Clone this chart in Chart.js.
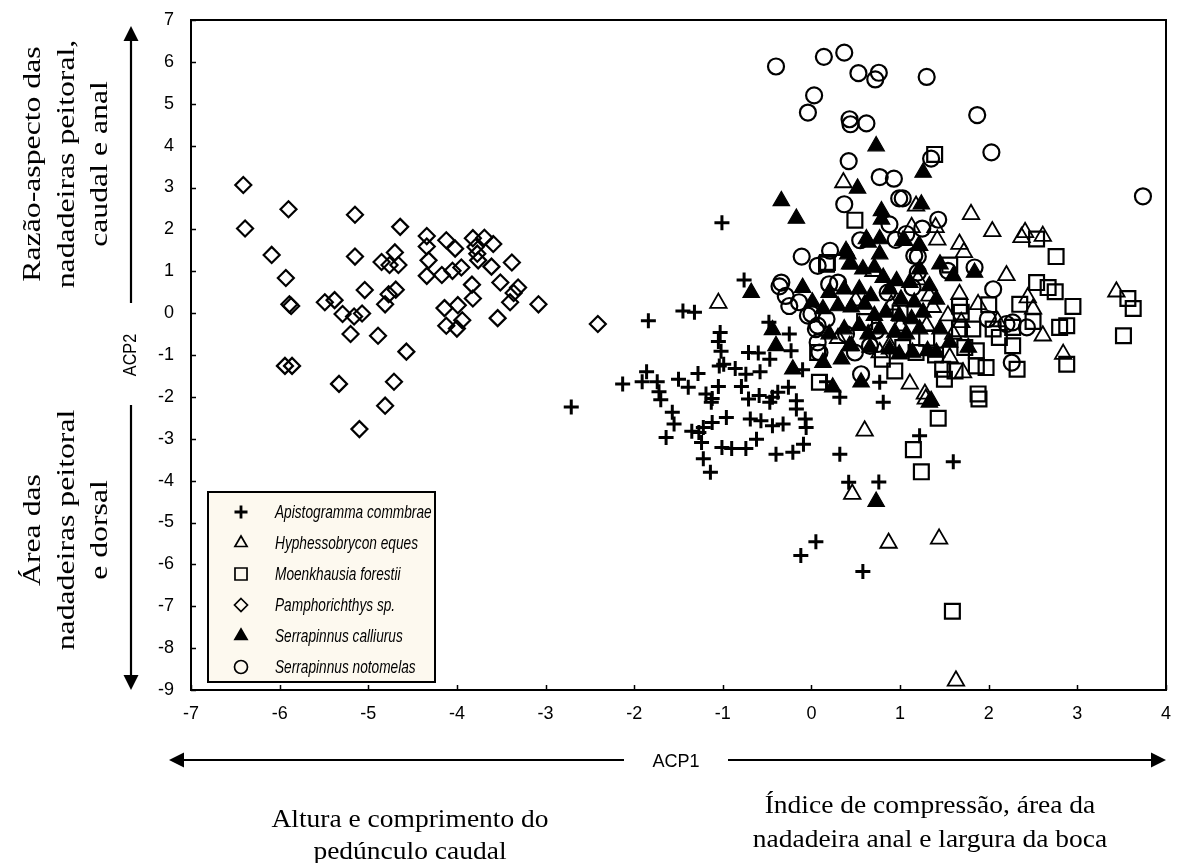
<!DOCTYPE html>
<html>
<head>
<meta charset="utf-8">
<script src="https://cdn.jsdelivr.net/npm/chart.js@4.4.1/dist/chart.umd.min.js"></script>
<style>
  html, body { margin: 0; padding: 0; background: #ffffff; }
  #wrap { position: relative; width: 1182px; height: 863px; }
  canvas { display: block; }
</style>
</head>
<body>
<div id="wrap"><canvas id="c" width="1182" height="863"></canvas></div>
<script>
// ---------- DATA (ACP1, ACP2) ----------
const seriesNames = [
  "Apistogramma commbrae",
  "Hyphessobrycon eques",
  "Moenkhausia forestii",
  "Pamphorichthys sp.",
  "Serrapinnus calliurus",
  "Serrapinnus notomelas"
];

const xTicks = [-7,-6,-5,-4,-3,-2,-1,0,1,2,3,4];
const yTicks = [-9,-8,-7,-6,-5,-4,-3,-2,-1,0,1,2,3,4,5,6,7];

const apistogramma = [
  [-1.01,2.16],[-0.76,0.79],[-1.45,0.05],[-1.32,0.02],[-1.84,-0.18],[-2.71,-2.24],[-2.13,-1.69],[-1.91,-1.64],
  [-1.86,-1.40],[-1.74,-1.64],[-1.72,-1.88],[-1.70,-2.07],[-1.50,-1.58],[-1.39,-1.77],[-1.28,-1.44],[-1.19,-1.93],
  [-1.12,-2.04],[-1.05,-1.75],[-1.03,-0.46],[-1.05,-0.68],[-1.02,-0.91],[-1.04,-1.26],[-0.99,-1.22],[-0.86,-1.32],
  [-0.74,-1.46],[-0.58,-1.40],[-0.79,-1.75],[-0.71,-0.94],[-0.60,-0.95],[-0.48,-0.22],[-0.47,-1.10],[-0.25,-0.50],
  [-0.23,-0.90],[-0.26,-1.77],[-0.10,-1.35],[-0.71,-2.05],[-0.59,-1.97],[-0.44,-2.01],[-0.38,-1.89],[-1.57,-2.37],
  [-1.55,-2.65],[-1.64,-2.97],[-1.35,-2.82],[-1.27,-2.85],[-1.22,-2.73],[-1.12,-2.61],[-0.96,-2.49],[-1.24,-3.09],
  [-1.22,-3.48],[-1.14,-3.80],[-1.01,-3.21],[-0.90,-3.23],[-0.74,-3.23],[-0.62,-3.01],[-0.69,-2.53],[-0.57,-2.57],
  [-0.44,-2.69],[-0.32,-2.65],[-0.17,-2.09],[-0.17,-2.29],[-0.07,-2.53],[-0.06,-2.73],[-0.40,-3.37],[-0.21,-3.32],
  [-0.09,-3.13],[0.32,-3.37],[0.42,-4.04],[0.17,-1.64],[0.32,-2.01],[0.77,-1.65],[0.81,-2.13],[1.22,-2.93],
  [1.60,-3.55],[0.76,-4.03],[0.05,-5.46],[-0.12,-5.79],[0.58,-6.17],[-1.13,-2.13],[-0.47,-2.13]
];

const hyphessobrycon = [
  [0.36,3.12],[1.18,2.56],[1.80,2.36],[1.40,2.05],[1.42,1.75],[1.67,1.65],[1.72,1.45],[2.04,1.95],
  [2.37,1.81],[2.41,1.93],[2.61,1.84],[1.13,2.05],[3.44,0.51],[2.44,0.37],[2.50,0.10],[2.61,-0.54],
  [2.84,-0.98],[1.88,0.21],[1.67,0.45],[1.69,-0.22],[1.54,-0.06],[1.33,0.41],[1.37,0.14],[1.30,-0.30],
  [1.11,-1.69],[1.28,-1.93],[1.71,-1.42],[1.56,-1.06],[0.77,-0.94],[0.88,-0.78],[0.60,-2.81],[-1.05,0.24],
  [0.46,-4.32],[0.87,-5.49],[1.44,-5.39],[1.63,-8.78],[1.29,-2.05],[0.50,0.30],[0.90,0.20],[1.00,-0.30],
  [1.60,-0.50],[2.10,-0.20],[1.20,0.80],[0.70,1.00],[2.20,0.90],[0.30,-0.60]
];

const moenkhausia = [
  [1.39,3.79],[0.49,2.22],[2.54,1.77],[2.76,1.35],[0.17,1.17],[1.56,1.15],[2.54,0.73],[2.67,0.61],
  [2.75,0.51],[2.95,0.16],[3.57,0.35],[3.63,0.11],[3.52,-0.54],[2.80,-0.34],[2.88,-0.30],[2.88,-1.22],
  [2.32,-1.34],[2.27,-0.78],[1.97,-1.30],[1.86,-1.26],[1.88,-1.93],[1.43,-2.51],[1.50,-1.58],[1.48,-1.34],
  [1.62,-1.38],[2.35,0.21],[2.27,-0.34],[2.12,-0.58],[2.05,-0.38],[1.82,-0.38],[1.67,-0.38],[1.73,-0.82],
  [1.86,-0.90],[1.03,-0.82],[1.18,-0.94],[0.94,-1.38],[0.09,-1.65],[0.07,-0.94],[0.18,1.21],[1.67,0.17],
  [1.69,0.02],[1.15,-3.26],[1.24,-3.79],[1.59,-7.12],[1.89,-2.05],[1.30,-0.60],[0.60,-0.20],[1.00,0.00],
  [2.50,-0.20],[2.00,0.20],[1.40,-1.00],[0.80,-1.10]
];

const pamphorichthys = [
  [-6.41,3.06],[-5.90,2.48],[-5.15,2.35],[-6.39,2.02],[-4.64,2.06],[-4.34,1.84],[-4.12,1.74],[-3.82,1.79],
  [-3.69,1.80],[-3.59,1.65],[-4.34,1.59],[-4.02,1.54],[-3.79,1.58],[-3.77,1.42],[-6.09,1.39],[-5.15,1.35],
  [-4.70,1.45],[-4.32,1.26],[-4.85,1.22],[-4.76,1.15],[-4.66,1.15],[-3.76,1.26],[-3.61,1.11],[-3.38,1.21],
  [-5.93,0.84],[-4.34,0.89],[-4.17,0.91],[-4.05,1.01],[-3.95,1.09],[-3.83,0.68],[-3.51,0.73],[-5.04,0.55],
  [-4.69,0.56],[-4.77,0.45],[-3.31,0.61],[-3.36,0.48],[-3.40,0.26],[-3.08,0.21],[-3.82,0.35],[-4.81,0.21],
  [-5.49,0.26],[-5.38,0.31],[-5.89,0.21],[-5.87,0.17],[-5.29,-0.02],[-5.16,-0.08],[-5.07,-0.01],[-4.14,0.12],
  [-3.99,0.19],[-3.94,-0.17],[-4.12,-0.30],[-4.00,-0.37],[-3.54,-0.12],[-5.20,-0.50],[-4.89,-0.54],[-4.57,-0.92],
  [-5.94,-1.26],[-5.86,-1.26],[-5.33,-1.69],[-4.71,-1.64],[-4.81,-2.21],[-5.10,-2.77],[-2.41,-0.26]
];

const calliurus = [
  [0.73,3.99],[1.26,3.36],[0.52,2.98],[-0.34,2.68],[-0.17,2.26],[0.79,2.44],[0.79,2.24],[1.24,2.60],
  [0.62,1.77],[0.77,1.77],[1.03,1.73],[1.21,1.61],[0.41,1.41],[0.45,1.17],[-0.68,0.49],[-0.10,0.61],
  [-0.44,-0.40],[-0.40,-0.78],[-0.21,-1.34],[0.24,-1.77],[0.13,-1.18],[0.34,-1.10],[0.73,-4.50],[1.33,-2.13],
  [0.56,-1.65],[0.45,-0.78],[1.35,-2.09],[1.45,1.17],[1.60,0.89],[1.84,0.97],[1.45,-0.38],[1.56,-0.70],
  [1.77,-0.82],[1.41,-0.94],[0.39,1.49],[0.64,1.69],[1.05,1.73],[1.22,1.61],[0.43,1.17],[0.58,1.05],
  [0.71,1.09],[0.77,1.41],[0.81,0.85],[0.96,0.77],[1.11,0.73],[1.22,1.05],[0.20,0.49],[0.37,0.57],
  [0.54,0.57],[0.67,0.41],[0.88,0.57],[1.01,0.33],[1.16,0.26],[1.33,0.65],[0.01,0.26],[0.13,0.10],
  [0.30,0.17],[0.45,0.14],[0.60,0.21],[0.71,-0.06],[0.84,0.02],[0.99,-0.06],[1.13,-0.14],[1.26,0.02],
  [1.41,0.33],[0.20,-0.50],[0.37,-0.38],[0.54,-0.30],[0.64,-0.50],[0.77,-0.38],[0.94,-0.46],[1.07,-0.50],
  [1.22,-0.38],[0.43,-0.78],[0.66,-0.82],[0.88,-0.86],[0.99,-0.98],[1.14,-0.94],[1.31,-0.90]
];

const notomelas = [
  [-0.40,5.89],[0.14,6.12],[0.37,6.22],[0.53,5.73],[0.72,5.58],[0.76,5.74],[1.30,5.64],[0.03,5.20],
  [-0.04,4.79],[0.43,4.63],[0.44,4.51],[0.62,4.53],[1.87,4.73],[0.42,3.63],[2.03,3.84],[1.35,3.69],
  [0.77,3.25],[0.93,3.21],[0.99,2.74],[1.03,2.74],[0.37,2.60],[0.88,2.12],[3.74,2.79],[1.43,2.23],
  [1.25,2.02],[1.07,1.89],[0.55,1.74],[0.21,1.49],[-0.11,1.35],[0.07,1.13],[0.95,1.75],[1.84,1.09],
  [1.20,1.35],[-0.34,0.73],[-0.29,0.41],[-0.25,0.17],[-0.14,0.26],[0.00,-0.02],[0.07,-0.30],[0.17,-0.14],
  [0.30,0.73],[0.20,0.69],[0.09,-0.94],[0.49,-0.94],[0.39,-0.50],[0.56,-1.46],[0.66,-0.78],[0.73,-0.42],
  [0.86,0.49],[1.16,1.37],[1.20,0.97],[1.14,0.61],[2.05,0.57],[1.99,-0.14],[2.20,-0.26],[2.27,-0.22],
  [2.43,-0.34],[2.26,-1.18],[1.54,1.01],[0.05,-0.38],[0.07,-0.70],[-0.04,-0.06],[-0.36,0.64]
];

// ---------- STYLE ----------
const seriesData = [apistogramma, hyphessobrycon, moenkhausia, pamphorichthys, calliurus, notomelas];
const seriesStyles = [
  { pointStyle: 'cross',    radius: 7.5, fill: 'rgba(0,0,0,0)', width: 3 },
  { pointStyle: 'triangle', radius: 9.5, fill: 'rgba(0,0,0,0)', width: 1.8 },
  { pointStyle: 'rect',     radius: 10.5, fill: 'rgba(0,0,0,0)', width: 2.2 },
  { pointStyle: 'rectRot',  radius: 8,   fill: 'rgba(0,0,0,0)', width: 2.2 },
  { pointStyle: 'triangle', radius: 9.5, fill: '#000000',       width: 1.2 },
  { pointStyle: 'circle',   radius: 8,   fill: 'rgba(0,0,0,0)', width: 2.2 }
];

const datasets = seriesNames.map((name, i) => ({
  label: name,
  data: seriesData[i].map(p => ({ x: p[0], y: p[1] })),
  pointStyle: seriesStyles[i].pointStyle,
  pointRadius: seriesStyles[i].radius,
  pointHoverRadius: seriesStyles[i].radius,
  pointBackgroundColor: seriesStyles[i].fill,
  pointBorderColor: '#000000',
  pointBorderWidth: seriesStyles[i].width,
  showLine: false
}));

const SANS = "'Liberation Sans', Arial, sans-serif";
const SERIF = "'Liberation Serif', 'Times New Roman', serif";

function drawShape(ctx, style, x, y, r, fill, lw) {
  ctx.save();
  ctx.lineWidth = lw;
  ctx.strokeStyle = '#000';
  ctx.fillStyle = fill;
  ctx.beginPath();
  if (style === 'cross') {
    ctx.moveTo(x - r, y); ctx.lineTo(x + r, y);
    ctx.moveTo(x, y - r); ctx.lineTo(x, y + r);
    ctx.stroke();
  } else if (style === 'triangle') {
    for (let k = 0; k < 3; k++) {
      const a = k * 2 * Math.PI / 3;
      const px = x + Math.sin(a) * r, py = y - Math.cos(a) * r;
      if (k === 0) ctx.moveTo(px, py); else ctx.lineTo(px, py);
    }
    ctx.closePath(); ctx.fill(); ctx.stroke();
  } else if (style === 'rect') {
    const s = r * Math.SQRT1_2;
    ctx.rect(x - s, y - s, 2 * s, 2 * s); ctx.stroke();
  } else if (style === 'rectRot') {
    ctx.moveTo(x, y - r); ctx.lineTo(x + r, y); ctx.lineTo(x, y + r); ctx.lineTo(x - r, y);
    ctx.closePath(); ctx.stroke();
  } else {
    ctx.arc(x, y, r, 0, Math.PI * 2); ctx.stroke();
  }
  ctx.restore();
}

function arrowHead(ctx, x, y, dir) {
  const L = 15, W = 7.5;
  ctx.beginPath();
  if (dir === 'up') { ctx.moveTo(x, y); ctx.lineTo(x - W, y + L); ctx.lineTo(x + W, y + L); }
  if (dir === 'down') { ctx.moveTo(x, y); ctx.lineTo(x - W, y - L); ctx.lineTo(x + W, y - L); }
  if (dir === 'left') { ctx.moveTo(x, y); ctx.lineTo(x + L, y - W); ctx.lineTo(x + L, y + W); }
  if (dir === 'right') { ctx.moveTo(x, y); ctx.lineTo(x - L, y - W); ctx.lineTo(x - L, y + W); }
  ctx.closePath(); ctx.fill();
}

const framePlugin = {
  id: 'frame',
  afterDatasetsDraw(chart) {
    const ctx = chart.ctx;
    const a = chart.chartArea;
    const xs = chart.scales.x, ys = chart.scales.y;
    ctx.save();
    // frame
    ctx.strokeStyle = '#000'; ctx.lineWidth = 2;
    ctx.strokeRect(a.left, a.top, a.right - a.left, a.bottom - a.top);
    // inside ticks
    ctx.lineWidth = 1.5;
    ctx.beginPath();
    xTicks.forEach(v => { const px = Math.round(xs.getPixelForValue(v)) + 0.5; ctx.moveTo(px, a.bottom); ctx.lineTo(px, a.bottom - 5); });
    yTicks.forEach(v => { const py = Math.round(ys.getPixelForValue(v)) + 0.5; ctx.moveTo(a.left, py); ctx.lineTo(a.left + 5, py); });
    ctx.stroke();

    // legend box
    const lx = 208, ly = 492, lw = 227, lh = 190;
    ctx.fillStyle = '#fdf9ef';
    ctx.fillRect(lx, ly, lw, lh);
    ctx.lineWidth = 2; ctx.strokeStyle = '#000';
    ctx.strokeRect(lx, ly, lw, lh);
    const rows = [512, 543, 574, 605, 636, 667];
    const legendR = [6.5, 7, 8.5, 6.5, 7, 6.5];
    seriesNames.forEach((n, i) => {
      const st = seriesStyles[i];
      drawShape(ctx, st.pointStyle, 241, rows[i], legendR[i], st.fill, st.pointStyle === 'cross' ? 2.8 : 1.7);
      ctx.save();
      ctx.translate(275, rows[i]);
      ctx.scale(0.76, 1);
      ctx.fillStyle = '#000';
      ctx.font = "italic 18px " + SANS;
      ctx.textAlign = 'left'; ctx.textBaseline = 'middle';
      ctx.fillText(n, 0, 1);
      ctx.restore();
    });

    // vertical ACP2 arrow
    ctx.fillStyle = '#000'; ctx.strokeStyle = '#000'; ctx.lineWidth = 2.2;
    ctx.beginPath();
    ctx.moveTo(131, 40); ctx.lineTo(131, 303);
    ctx.moveTo(131, 405); ctx.lineTo(131, 676);
    ctx.stroke();
    arrowHead(ctx, 131, 26, 'up');
    arrowHead(ctx, 131, 690, 'down');
    ctx.save();
    ctx.translate(131, 355); ctx.rotate(-Math.PI / 2);
    ctx.scale(0.9, 1);
    ctx.font = "18px " + SANS; ctx.textAlign = 'center'; ctx.textBaseline = 'middle';
    ctx.fillText('ACP2', 0, 0);
    ctx.restore();

    // horizontal ACP1 arrow
    ctx.beginPath();
    ctx.moveTo(184, 760); ctx.lineTo(624, 760);
    ctx.moveTo(728, 760); ctx.lineTo(1151, 760);
    ctx.stroke();
    arrowHead(ctx, 169, 760, 'left');
    arrowHead(ctx, 1166, 760, 'right');
    ctx.save();
    ctx.translate(676, 762);
    ctx.scale(0.95, 1);
    ctx.font = "19px " + SANS; ctx.textAlign = 'center'; ctx.textBaseline = 'middle';
    ctx.fillText('ACP1', 0, 0);
    ctx.restore();

    // descriptive texts (serif)
    ctx.font = "25px " + SERIF;
    ctx.textAlign = 'center'; ctx.textBaseline = 'middle';
    const vtext = (txt, x, y) => {
      ctx.save(); ctx.translate(x, y); ctx.rotate(-Math.PI / 2); ctx.scale(1.27, 1); ctx.fillText(txt, 0, 0); ctx.restore();
    };
    vtext('Razão-aspecto das', 33, 164);
    vtext('nadadeiras peitoral,', 67, 164);
    vtext('caudal e anal', 100, 164);
    vtext('Área das', 33, 530);
    vtext('nadadeiras peitoral', 67, 530);
    vtext('e dorsal', 100, 530);
    const htext = (txt, x, y) => {
      ctx.save(); ctx.translate(x, y); ctx.scale(1.1, 1); ctx.fillText(txt, 0, 0); ctx.restore();
    };
    htext('Altura e comprimento do', 410, 820);
    htext('pedúnculo caudal', 410, 852);
    htext('Índice de compressão, área da', 930, 806);
    htext('nadadeira anal e largura da boca', 930, 840);
    ctx.restore();
  }
};

new Chart(document.getElementById('c').getContext('2d'), {
  type: 'scatter',
  data: { datasets },
  options: {
    responsive: false,
    devicePixelRatio: 1,
    animation: false,
    events: [],
    layout: { padding: { left: 141, right: 16, top: 20, bottom: 133 } },
    plugins: { legend: { display: false }, tooltip: { enabled: false } },
    scales: {
      x: {
        type: 'linear', min: -7, max: 4,
        afterBuildTicks: s => { s.ticks = xTicks.map(v => ({ value: v })); },
        afterFit: s => { s.height = 40; },
        grid: { display: false },
        border: { display: false },
        ticks: { color: '#000', font: { family: SANS, size: 18 }, padding: 5, maxRotation: 0 }
      },
      y: {
        type: 'linear', min: -9, max: 7,
        afterBuildTicks: s => { s.ticks = yTicks.map(v => ({ value: v })); },
        afterFit: s => { s.width = 50; },
        grid: { display: false },
        border: { display: false },
        ticks: { color: '#000', font: { family: SANS, size: 18 }, padding: 9 }
      }
    }
  },
  plugins: [framePlugin]
});
</script>
</body>
</html>
